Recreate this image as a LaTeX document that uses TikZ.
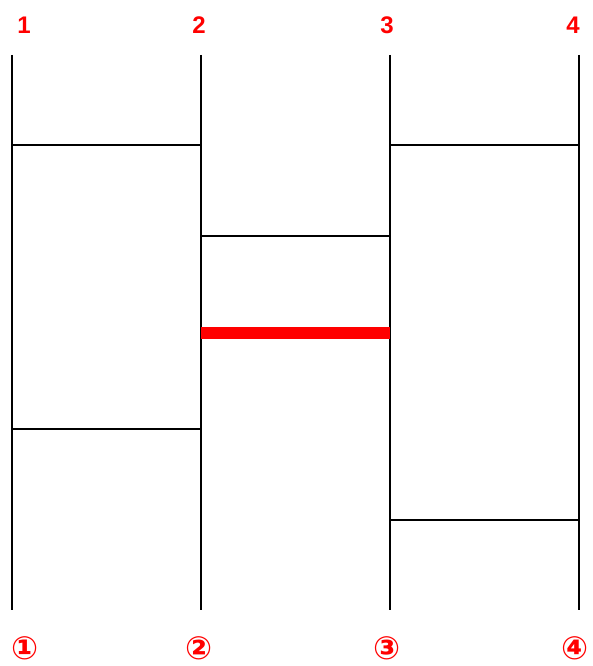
\documentclass[tikz,border=0pt]{standalone}
\usepackage{fontspec}
\setmainfont{Liberation Sans}
\newfontfamily\circfont{DejaVu Sans}
\usetikzlibrary{positioning}
\definecolor{LabelRed}{RGB}{255,0,0}
\tikzset{
  railline/.style={line width=1.5pt,draw=black},
  rungline/.style={line width=1.3pt,draw=black},
  hotrung/.style={line width=9pt,draw=LabelRed},
  toplabel/.style={font=\fontsize{18}{20}\selectfont\bfseries,text=LabelRed,inner sep=0pt},
  botlabel/.style={font=\circfont\fontsize{24}{25}\selectfont\bfseries,text=LabelRed,inner sep=0pt},
}

\begin{document}
\begin{tikzpicture}[x=0.75pt,y=-0.75pt]
  \useasboundingbox (0,0) rectangle (592,666);
  % rails
  \foreach \i/\x in {1/12,2/201,3/390,4/579} {
    \coordinate (t\i) at (\x,55);
    \coordinate (b\i) at (\x,610);
    \draw[railline] (t\i) -- (b\i);
  }
  % rungs
  \coordinate (r12a) at (12,145);  \coordinate (r12b) at (201,145);
  \coordinate (r12c) at (12,429);  \coordinate (r12d) at (201,429);
  \coordinate (r23a) at (201,236); \coordinate (r23b) at (390,236);
  \coordinate (r23c) at (201,333); \coordinate (r23d) at (390,333);
  \coordinate (r34a) at (390,145); \coordinate (r34b) at (579,145);
  \coordinate (r34c) at (390,520); \coordinate (r34d) at (579,520);
  \draw[rungline] (r12a) -- (r12b);
  \draw[rungline] (r12c) -- (r12d);
  \draw[rungline] (r23a) -- (r23b);
  \draw[rungline] (r34a) -- (r34b);
  \draw[rungline] (r34c) -- (r34d);
  \draw[hotrung] (r23c) -- (r23d);
  % labels
  \node[toplabel] (n1) at (24,25) {1};
  \node[toplabel] (n2) at (199,25) {2};
  \node[toplabel] (n3) at (387,25) {3};
  \node[toplabel] (n4) at (573,25) {4};
  \node[botlabel] (c1) at (25,648) {①};
  \node[botlabel] (c2) at (199,648) {②};
  \node[botlabel] (c3) at (387,648) {③};
  \node[botlabel] (c4) at (575,648) {④};
\end{tikzpicture}
\end{document}
